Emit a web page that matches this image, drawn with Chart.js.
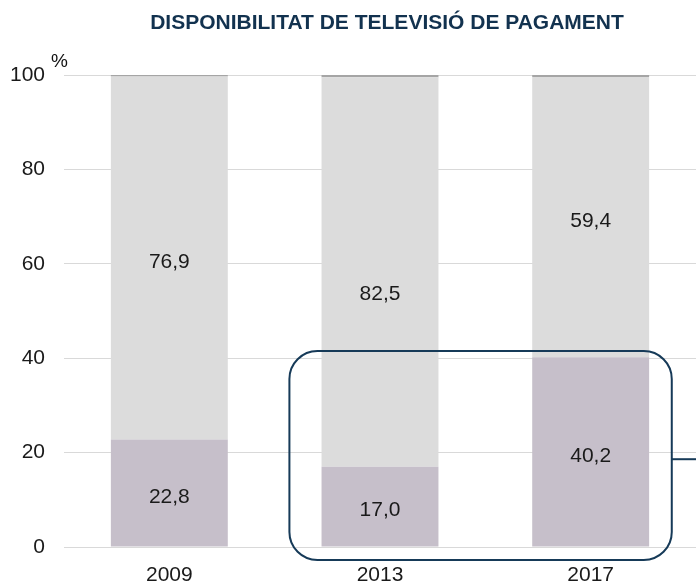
<!DOCTYPE html>
<html>
<head>
<meta charset="utf-8">
<script src="https://cdn.jsdelivr.net/npm/chart.js@4"></script>
<style>
  body { margin: 0; background: #fff; }
  #wrap { width: 696px; height: 584px; }
</style>
</head>
<body>
<div id="wrap"><canvas id="tvChart" width="696" height="584"></canvas></div>
<script>
    // dades llegides del gràfic
    const years = ['2009', '2013', '2017'];
    const payTv = [22.8, 17.0, 40.2];
    const noPayTv = [76.9, 82.5, 59.4];
    const nsnc = [0.3, 0.5, 0.4];
    const yTicks = [0, 20, 40, 60, 80, 100];

    const fmt = v => v.toFixed(1).replace('.', ',');
    const FONT = '"Liberation Sans", Arial, sans-serif';

    // titol i etiqueta %
    const titlePlugin = {
        id: 'titlePlugin',
        afterDraw(chart) {
            const c = chart.ctx;
            c.save();
            c.fillStyle = '#12324f';
            c.font = 'bold 21px ' + FONT;
            c.textAlign = 'center';
            c.textBaseline = 'middle';
            c.fillText('DISPONIBILITAT DE TELEVISIÓ DE PAGAMENT', 387, 23);
            c.fillStyle = '#111';
            c.font = '19px ' + FONT;
            c.textAlign = 'left';
            c.fillText('%', 51, 62);
            c.restore();
        }
    };

    // valors dins les barres
    const valueLabels = {
        id: 'valueLabels',
        afterDatasetsDraw(chart) {
            const c = chart.ctx;
            c.save();
            c.fillStyle = '#1a1a1a';
            c.font = '21px ' + FONT;
            c.textAlign = 'center';
            c.textBaseline = 'middle';
            [0, 1].forEach(di => {
                const meta = chart.getDatasetMeta(di);
                meta.data.forEach((bar, i) => {
                    const v = chart.data.datasets[di].data[i];
                    let y = (bar.y + bar.base) / 2 + 4;
                    if (di === 1 && i === 1) y += 18;
                    c.fillText(fmt(v), bar.x, y);
                });
            });
            c.restore();
        }
    };

    // requadre arrodonit 2013-2017
    const highlight = {
        id: 'highlight',
        afterDatasetsDraw(chart) {
            const x = chart.scales.x, y = chart.scales.y;
            const c = chart.ctx;
            const l = x.getPixelForValue(0.57), r = x.getPixelForValue(2.385);
            const t = y.getPixelForValue(41.5), b = y.getPixelForValue(-2.75);
            const ly = y.getPixelForValue(18.6);
            c.save();
            c.strokeStyle = '#163a58';
            c.lineWidth = 2;
            c.beginPath();
            c.roundRect(l, t, r - l, b - t, 28);
            c.stroke();
            c.beginPath();
            c.moveTo(r, ly);
            c.lineTo(chart.width, ly);
            c.stroke();
            c.restore();
        }
    };

    const ctx = document.getElementById('tvChart').getContext('2d');
    new Chart(ctx, {
        type: 'bar',
        data: {
            labels: years,
            datasets: [{
                label: 'Sí',
                data: payTv,
                backgroundColor: '#c6bfca'
            }, {
                label: 'No',
                data: noPayTv,
                backgroundColor: '#dcdcdc'
            }, {
                label: 'NS/NC',
                data: nsnc,
                backgroundColor: '#a5a5a5'
            }]
        },
        options: {
            responsive: false,
            animation: false,
            layout: { padding: { top: 75, left: 0, right: 0, bottom: 0 } },
            datasets: {
                bar: { categoryPercentage: 1, barPercentage: 0.555 }
            },
            scales: {
                x: {
                    stacked: true,
                    grid: { display: false },
                    border: { display: false },
                    ticks: {
                        color: '#1a1a1a',
                        padding: 8,
                        font: { size: 21, family: FONT }
                    },
                    afterFit(scale) { scale.height = 37; }
                },
                y: {
                    stacked: true,
                    min: 0,
                    max: 100,
                    afterBuildTicks(scale) {
                        scale.ticks = yTicks.map(v => ({ value: v }));
                    },
                    grid: { color: '#d9d9d9', lineWidth: 1, drawTicks: false },
                    border: { display: false },
                    ticks: {
                        color: '#1a1a1a',
                        padding: 19,
                        font: { size: 21, family: FONT }
                    },
                    afterFit(scale) { scale.width = 64; }
                }
            },
            plugins: {
                legend: { display: false },
                tooltip: { enabled: false }
            }
        },
        plugins: [titlePlugin, valueLabels, highlight]
    });
</script>
</body>
</html>
